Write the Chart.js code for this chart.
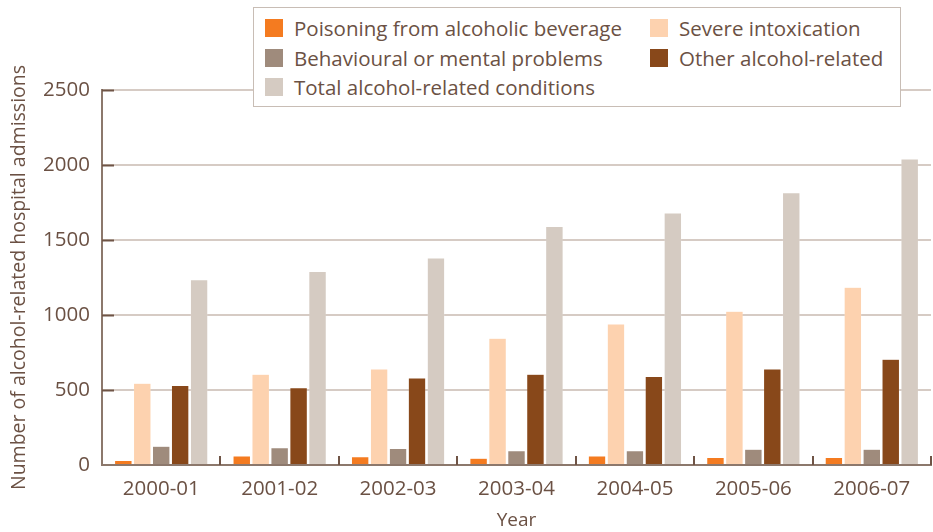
<!DOCTYPE html>
<html>
<head>
<meta charset="utf-8">
<script src="https://cdn.jsdelivr.net/npm/chart.js@4.4.0/dist/chart.umd.min.js"></script>
<style>
  html, body { margin: 0; padding: 0; background: #fff; }
  #wrap { position: relative; width: 933px; height: 532px; overflow: hidden; }
  #legend {
    position: absolute; left: 253px; top: 7px; width: 646px; height: 98px;
    background: #fff; border: 1px solid #c8bdb5;
    font-family: "Open Sans", sans-serif; font-size: 20.5px; color: #6b5144;
  }
  .item { position: absolute; height: 18px; line-height: 18px; white-space: nowrap; }
  .item i { position: absolute; left: 0; top: 0; width: 18px; height: 18px; }
  .item span { position: absolute; left: 29px; top: 0px; }
</style>
</head>
<body>
<div id="wrap">
  <canvas id="chart" width="933" height="532"></canvas>
  <div id="legend"></div>
</div>
<script>
// Data
const years = ['2000-01', '2001-02', '2002-03', '2003-04', '2004-05', '2005-06', '2006-07'];
const poisoning = [30, 60, 55, 45, 60, 50, 50];
const severe = [545, 605, 640, 845, 940, 1025, 1185];
const behavioural = [125, 115, 110, 95, 95, 105, 105];
const other = [530, 515, 580, 605, 590, 640, 705];
const total = [1235, 1290, 1380, 1590, 1680, 1815, 2040];
const yTicks = [0, 500, 1000, 1500, 2000, 2500];

const textColor = '#6b5144';
const axisColor = '#8c786c';
const gridColor = '#d6cbc4';

const series = [
  { label: 'Poisoning from alcoholic beverage', data: poisoning, color: '#f47b20', col: 0, row: 0 },
  { label: 'Severe intoxication', data: severe, color: '#fdd2af', col: 1, row: 0 },
  { label: 'Behavioural or mental problems', data: behavioural, color: '#9f8b7c', col: 0, row: 1 },
  { label: 'Other alcohol-related', data: other, color: '#88481a', col: 1, row: 1 },
  { label: 'Total alcohol-related conditions', data: total, color: '#d5cbc2', col: 0, row: 2 }
];

// Inner tick marks on both axes
const tickMarks = {
  id: 'tickMarks',
  afterDatasetsDraw(chart) {
    const ctx = chart.ctx;
    const x = chart.scales.x, y = chart.scales.y;
    const area = chart.chartArea;
    ctx.save();
    ctx.strokeStyle = '#6f5446';
    ctx.lineWidth = 2;
    yTicks.forEach(v => {
      if (v === 0) return;
      const py = Math.round(y.getPixelForValue(v)) + 0.5;
      ctx.beginPath();
      ctx.moveTo(area.left, py);
      ctx.lineTo(area.left + 12, py);
      ctx.stroke();
    });
    const w = (x.right - x.left) / years.length;
    for (let i = 1; i <= years.length; i++) {
      const px = Math.round(x.left + i * w);
      ctx.beginPath();
      ctx.moveTo(px, area.bottom);
      ctx.lineTo(px, area.bottom - 9);
      ctx.stroke();
    }
    ctx.restore();
  }
};

const ctx = document.getElementById('chart').getContext('2d');
const chart = new Chart(ctx, {
  type: 'bar',
  data: {
    labels: years,
    datasets: series.map(s => ({
      label: s.label,
      data: s.data,
      backgroundColor: s.color,
      borderColor: 'rgba(255,255,255,0.4)',
      borderWidth: 0.5,
      categoryPercentage: 0.8,
      barPercentage: 0.92
    }))
  },
  options: {
    responsive: false,
    animation: false,
    layout: { padding: { top: 90, right: 2, left: 0, bottom: 0 } },
    plugins: {
      legend: { display: false },
      tooltip: { enabled: false }
    },
    scales: {
      x: {
        grid: { display: false, drawTicks: false },
        border: { display: true, color: axisColor, width: 2 },
        ticks: {
          color: textColor,
          padding: 12,
          font: { family: 'Open Sans', size: 20.5 }
        },
        title: {
          display: true,
          text: 'Year',
          color: textColor,
          padding: { top: 0, bottom: 0 },
          font: { family: 'Open Sans', size: 19 }
        },
        afterFit(scale) { scale.height = 67; }
      },
      y: {
        min: 0,
        max: 2500,
        afterBuildTicks(scale) { scale.ticks = yTicks.map(v => ({ value: v })); },
        grid: { color: gridColor, lineWidth: 2, drawTicks: false },
        border: { display: true, color: axisColor, width: 2 },
        ticks: {
          color: textColor,
          padding: 12,
          font: { family: 'Open Sans', size: 20.5 },
          callback: v => String(v)
        },
        title: {
          display: true,
          text: 'Number of alcohol-related hospital admissions',
          color: textColor,
          padding: { top: 8, bottom: 0 },
          font: { family: 'Open Sans', size: 19.5 }
        },
        afterFit(scale) { scale.width = 102; }
      }
    }
  },
  plugins: [tickMarks]
});

// Two-column legend box
const legend = document.getElementById('legend');
series.forEach(s => {
  const item = document.createElement('div');
  item.className = 'item';
  item.style.left = (s.col === 0 ? 11 : 396) + 'px';
  item.style.top = (11 + s.row * 29.5) + 'px';
  item.innerHTML = '<i style="background:' + s.color + '"></i><span>' + s.label + '</span>';
  legend.appendChild(item);
});
</script>
</body>
</html>
